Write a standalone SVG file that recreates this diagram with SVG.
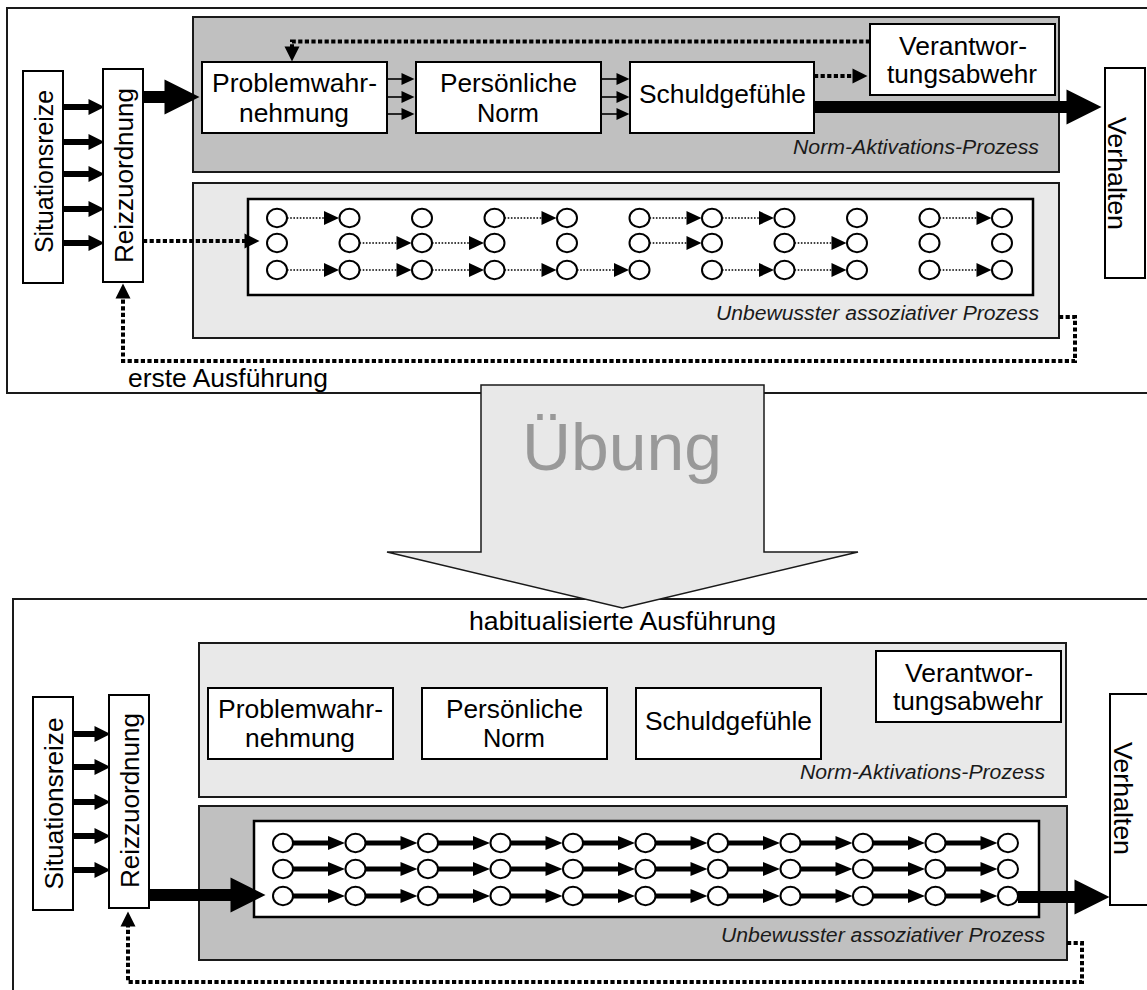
<svg xmlns="http://www.w3.org/2000/svg" width="1147" height="990" viewBox="0 0 1147 990">
  <style>
    text { font-family: "Liberation Sans", Arial, sans-serif; fill: #000; }
    .lbl { font-size: 26px; text-anchor: middle; }
    .vlbl { font-size: 26px; text-anchor: middle; }
    .cap { font-size: 20px; font-style: italic; text-anchor: end; fill: #1a1a1a; }
    .frame { fill: #fff; stroke: #1a1a1a; stroke-width: 2; }
    .dark { fill: #c0c0c0; stroke: #1a1a1a; stroke-width: 2; }
    .light { fill: #e9e9e9; stroke: #1a1a1a; stroke-width: 2; }
    .box { fill: #fff; stroke: #000; stroke-width: 2; }
    .net { fill: #fff; stroke: #000; stroke-width: 2.5; }
    .node { fill: #fff; stroke: #000; stroke-width: 2; }
    .dotline { fill: none; stroke: #000; stroke-width: 1.6; stroke-dasharray: 1.6 1.6; marker-end: url(#hd-dot); }
    .boldline { fill: none; stroke: #000; stroke-width: 5; marker-end: url(#hd-bold); }
    .thin { fill: none; stroke: #000; stroke-width: 1.6; marker-end: url(#hd-thin); }
    .input { fill: none; stroke: #000; stroke-width: 6; marker-end: url(#hd-in); }
    .thick { fill: none; stroke: #000; stroke-width: 12; marker-end: url(#hd-big); }
    .loop { fill: none; stroke: #000; stroke-width: 4; stroke-dasharray: 4.2 2.4; marker-end: url(#hd-loop); }
  </style>
  <defs>
    <marker id="hd-dot" markerUnits="userSpaceOnUse" markerWidth="15" markerHeight="14" refX="0.5" refY="7" orient="auto" overflow="visible">
      <path d="M0,0 L15,7 L0,14 z" fill="#000"/>
    </marker>
    <marker id="hd-bold" markerUnits="userSpaceOnUse" markerWidth="17" markerHeight="14" refX="0.5" refY="7" orient="auto" overflow="visible">
      <path d="M0,0 L17,7 L0,14 z" fill="#000"/>
    </marker>
    <marker id="hd-thin" markerUnits="userSpaceOnUse" markerWidth="13" markerHeight="12" refX="0.5" refY="6" orient="auto" overflow="visible">
      <path d="M0,0 L13,6 L0,12 z" fill="#000"/>
    </marker>
    <marker id="hd-in" markerUnits="userSpaceOnUse" markerWidth="16" markerHeight="16" refX="0.5" refY="8" orient="auto" overflow="visible">
      <path d="M0,0 L16,8 L0,16 z" fill="#000"/>
    </marker>
    <marker id="hd-big" markerUnits="userSpaceOnUse" markerWidth="35" markerHeight="35" refX="0.5" refY="17.5" orient="auto" overflow="visible">
      <path d="M0,0 L35,17.5 L0,35 z" fill="#000"/>
    </marker>
    <marker id="hd-loop" markerUnits="userSpaceOnUse" markerWidth="15" markerHeight="15" refX="0.5" refY="7.5" orient="auto" overflow="visible">
      <path d="M0,0 L15,7.5 L0,15 z" fill="#000"/>
    </marker>
    <ellipse id="unit" class="node" cx="0" cy="0" rx="10" ry="9.3"/>
  </defs>

  <!-- outer frames of the two stages -->
  <g id="frames">
    <rect id="frame-first" class="frame" x="7" y="8" width="1145" height="385"/>
    <rect id="frame-habit" class="frame" x="13" y="599" width="1140" height="400"/>
  </g>

  <!-- process panels, first execution -->
  <g id="panel-nap-1">
    <rect class="dark" x="193" y="17" width="866" height="155"/>
    <text class="cap" x="1039" y="154" textLength="246" lengthAdjust="spacingAndGlyphs">Norm-Aktivations-Prozess</text>
  </g>
  <g id="panel-assoc-1">
    <rect class="light" x="193" y="183" width="866" height="155"/>
    <rect class="net" x="248" y="199" width="785" height="96"/>
    <text class="cap" x="1039" y="320" textLength="323" lengthAdjust="spacingAndGlyphs">Unbewusster assoziativer Prozess</text>
  </g>

  <!-- process panels, habitual execution -->
  <g id="panel-nap-2">
    <rect class="light" x="199" y="643" width="867" height="154"/>
    <text class="cap" x="1045" y="779" textLength="245" lengthAdjust="spacingAndGlyphs">Norm-Aktivations-Prozess</text>
  </g>
  <g id="panel-assoc-2">
    <rect class="dark" x="199" y="806" width="868" height="154"/>
    <rect class="net" x="254" y="821" width="785" height="96"/>
    <text class="cap" x="1045" y="942" textLength="324" lengthAdjust="spacingAndGlyphs">Unbewusster assoziativer Prozess</text>
  </g>

  <g id="connectors">
    <!-- first execution: stimuli to assignment -->
    <path class="input" d="M63,107 H89"/>
    <path class="input" d="M63,142 H89"/>
    <path class="input" d="M63,174 H89"/>
    <path class="input" d="M63,209 H89"/>
    <path class="input" d="M63,243 H89"/>
    <!-- assignment to problem awareness -->
    <path class="thick" d="M143,97 H165"/>
    <!-- chain of the norm activation -->
    <path class="thin" d="M387,79 H402"/>
    <path class="thin" d="M387,97 H402"/>
    <path class="thin" d="M387,114 H402"/>
    <path class="thin" d="M601,79 H617"/>
    <path class="thin" d="M601,97 H617"/>
    <path class="thin" d="M601,114 H617"/>
    <path class="loop" d="M814,76 H853"/>
    <path class="loop" d="M870,41.5 H292 V47"/>
    <path class="thick" d="M814,107 H1067"/>
    <!-- assignment into the associative network -->
    <path class="loop" d="M143,241 H245"/>
    <!-- feedback -->
    <path class="loop" d="M1059,317 H1075 V361 H123 V298"/>

    <!-- associative links, first execution -->
    <path class="dotline" d="M287,218 H324.5"/>
    <path class="dotline" d="M504.5,218 H542"/>
    <path class="dotline" d="M649.5,218 H687"/>
    <path class="dotline" d="M722,218 H759.5"/>
    <path class="dotline" d="M939.5,218 H977"/>
    <path class="dotline" d="M359.5,243 H397"/>
    <path class="dotline" d="M432,243 H469.5"/>
    <path class="dotline" d="M649.5,243 H687"/>
    <path class="dotline" d="M794.5,243 H832"/>
    <path class="dotline" d="M287,270 H324.5"/>
    <path class="dotline" d="M359.5,270 H397"/>
    <path class="dotline" d="M432,270 H469.5"/>
    <path class="dotline" d="M504.5,270 H542"/>
    <path class="dotline" d="M577,270 H614.5"/>
    <path class="dotline" d="M722,270 H759.5"/>
    <path class="dotline" d="M794.5,270 H832"/>
    <path class="dotline" d="M939.5,270 H977"/>

    <!-- habitual execution: stimuli to assignment -->
    <path class="input" d="M70,734 H95"/>
    <path class="input" d="M70,767 H95"/>
    <path class="input" d="M70,802 H95"/>
    <path class="input" d="M70,836 H95"/>
    <path class="input" d="M70,870 H95"/>
    <path class="thick" d="M149,895 H231"/>
    <path class="thick" d="M1018,897 H1075"/>
    <path class="loop" d="M1067,943 H1082 V982 H128 V926"/>

    <!-- associative links, habitual execution -->
    <path class="boldline" d="M293,843 H328.5"/>
    <path class="boldline" d="M365.5,843 H401"/>
    <path class="boldline" d="M438,843 H473.5"/>
    <path class="boldline" d="M510.5,843 H546"/>
    <path class="boldline" d="M583,843 H618.5"/>
    <path class="boldline" d="M655.5,843 H691"/>
    <path class="boldline" d="M728,843 H763.5"/>
    <path class="boldline" d="M800.5,843 H836"/>
    <path class="boldline" d="M873,843 H908.5"/>
    <path class="boldline" d="M945.5,843 H981"/>
    <path class="boldline" d="M293,869 H328.5"/>
    <path class="boldline" d="M365.5,869 H401"/>
    <path class="boldline" d="M438,869 H473.5"/>
    <path class="boldline" d="M510.5,869 H546"/>
    <path class="boldline" d="M583,869 H618.5"/>
    <path class="boldline" d="M655.5,869 H691"/>
    <path class="boldline" d="M728,869 H763.5"/>
    <path class="boldline" d="M800.5,869 H836"/>
    <path class="boldline" d="M873,869 H908.5"/>
    <path class="boldline" d="M945.5,869 H981"/>
    <path class="boldline" d="M293,896 H328.5"/>
    <path class="boldline" d="M365.5,896 H401"/>
    <path class="boldline" d="M438,896 H473.5"/>
    <path class="boldline" d="M510.5,896 H546"/>
    <path class="boldline" d="M583,896 H618.5"/>
    <path class="boldline" d="M655.5,896 H691"/>
    <path class="boldline" d="M728,896 H763.5"/>
    <path class="boldline" d="M800.5,896 H836"/>
    <path class="boldline" d="M873,896 H908.5"/>
    <path class="boldline" d="M945.5,896 H981"/>
  </g>

  <!-- associative network units, first execution (3 rows x 11 columns) -->
  <g id="units-1">
    <g id="units-1-row1">
      <use href="#unit" x="277" y="218"/><use href="#unit" x="349.5" y="218"/><use href="#unit" x="422" y="218"/>
      <use href="#unit" x="494.5" y="218"/><use href="#unit" x="567" y="218"/><use href="#unit" x="639.5" y="218"/>
      <use href="#unit" x="712" y="218"/><use href="#unit" x="784.5" y="218"/><use href="#unit" x="857" y="218"/>
      <use href="#unit" x="929.5" y="218"/><use href="#unit" x="1002" y="218"/>
    </g>
    <g id="units-1-row2">
      <use href="#unit" x="277" y="243"/><use href="#unit" x="349.5" y="243"/><use href="#unit" x="422" y="243"/>
      <use href="#unit" x="494.5" y="243"/><use href="#unit" x="567" y="243"/><use href="#unit" x="639.5" y="243"/>
      <use href="#unit" x="712" y="243"/><use href="#unit" x="784.5" y="243"/><use href="#unit" x="857" y="243"/>
      <use href="#unit" x="929.5" y="243"/><use href="#unit" x="1002" y="243"/>
    </g>
    <g id="units-1-row3">
      <use href="#unit" x="277" y="270"/><use href="#unit" x="349.5" y="270"/><use href="#unit" x="422" y="270"/>
      <use href="#unit" x="494.5" y="270"/><use href="#unit" x="567" y="270"/><use href="#unit" x="639.5" y="270"/>
      <use href="#unit" x="712" y="270"/><use href="#unit" x="784.5" y="270"/><use href="#unit" x="857" y="270"/>
      <use href="#unit" x="929.5" y="270"/><use href="#unit" x="1002" y="270"/>
    </g>
  </g>

  <!-- associative network units, habitual execution (3 rows x 11 columns) -->
  <g id="units-2">
    <g id="units-2-row1">
      <use href="#unit" x="283" y="843"/><use href="#unit" x="355.5" y="843"/><use href="#unit" x="428" y="843"/>
      <use href="#unit" x="500.5" y="843"/><use href="#unit" x="573" y="843"/><use href="#unit" x="645.5" y="843"/>
      <use href="#unit" x="718" y="843"/><use href="#unit" x="790.5" y="843"/><use href="#unit" x="863" y="843"/>
      <use href="#unit" x="935.5" y="843"/><use href="#unit" x="1008" y="843"/>
    </g>
    <g id="units-2-row2">
      <use href="#unit" x="283" y="869"/><use href="#unit" x="355.5" y="869"/><use href="#unit" x="428" y="869"/>
      <use href="#unit" x="500.5" y="869"/><use href="#unit" x="573" y="869"/><use href="#unit" x="645.5" y="869"/>
      <use href="#unit" x="718" y="869"/><use href="#unit" x="790.5" y="869"/><use href="#unit" x="863" y="869"/>
      <use href="#unit" x="935.5" y="869"/><use href="#unit" x="1008" y="869"/>
    </g>
    <g id="units-2-row3">
      <use href="#unit" x="283" y="896"/><use href="#unit" x="355.5" y="896"/><use href="#unit" x="428" y="896"/>
      <use href="#unit" x="500.5" y="896"/><use href="#unit" x="573" y="896"/><use href="#unit" x="645.5" y="896"/>
      <use href="#unit" x="718" y="896"/><use href="#unit" x="790.5" y="896"/><use href="#unit" x="863" y="896"/>
      <use href="#unit" x="935.5" y="896"/><use href="#unit" x="1008" y="896"/>
    </g>
  </g>

  <!-- nodes, first execution -->
  <g id="situationsreize-1">
    <rect class="box" x="23" y="71" width="40" height="212"/>
    <text class="vlbl" transform="translate(53,171.5) rotate(-90)" textLength="163" lengthAdjust="spacingAndGlyphs">Situationsreize</text>
  </g>
  <g id="reizzuordnung-1">
    <rect class="box" x="103" y="69" width="40" height="213"/>
    <text class="vlbl" transform="translate(133,175.5) rotate(-90)" textLength="175" lengthAdjust="spacingAndGlyphs">Reizzuordnung</text>
  </g>
  <g id="problemwahrnehmung-1">
    <rect class="box" x="202" y="62" width="185" height="71"/>
    <text class="lbl" x="294.5" y="92" textLength="165" lengthAdjust="spacingAndGlyphs">Problemwahr-</text>
    <text class="lbl" x="294" y="122" textLength="110" lengthAdjust="spacingAndGlyphs">nehmung</text>
  </g>
  <g id="norm-1">
    <rect class="box" x="416" y="62" width="185" height="71"/>
    <text class="lbl" x="508.5" y="92" textLength="137" lengthAdjust="spacingAndGlyphs">Persönliche</text>
    <text class="lbl" x="508" y="122" textLength="62" lengthAdjust="spacingAndGlyphs">Norm</text>
  </g>
  <g id="schuldgefuehle-1">
    <rect class="box" x="630" y="62" width="184" height="71"/>
    <text class="lbl" x="722.5" y="103" textLength="167" lengthAdjust="spacingAndGlyphs">Schuldgefühle</text>
  </g>
  <g id="verantwortungsabwehr-1">
    <rect class="box" x="870" y="24" width="185" height="71"/>
    <text class="lbl" x="963" y="55" textLength="128" lengthAdjust="spacingAndGlyphs">Verantwor-</text>
    <text class="lbl" x="962" y="83" textLength="150" lengthAdjust="spacingAndGlyphs">tungsabwehr</text>
  </g>
  <g id="verhalten-1">
    <rect class="box" x="1105" y="68" width="40" height="210"/>
    <text class="vlbl" transform="translate(1108,173.5) rotate(90)" textLength="113" lengthAdjust="spacingAndGlyphs">Verhalten</text>
  </g>
  <text id="label-first" class="lbl" x="228" y="387" textLength="200" lengthAdjust="spacingAndGlyphs">erste Ausführung</text>

  <!-- nodes, habitual execution -->
  <g id="situationsreize-2">
    <rect class="box" x="33" y="697" width="40" height="213"/>
    <text class="vlbl" transform="translate(63,803.5) rotate(-90)" textLength="172" lengthAdjust="spacingAndGlyphs">Situationsreize</text>
  </g>
  <g id="reizzuordnung-2">
    <rect class="box" x="109" y="695" width="40" height="213"/>
    <text class="vlbl" transform="translate(139,800.5) rotate(-90)" textLength="175" lengthAdjust="spacingAndGlyphs">Reizzuordnung</text>
  </g>
  <g id="problemwahrnehmung-2">
    <rect class="box" x="208" y="688" width="185" height="71"/>
    <text class="lbl" x="300.5" y="718" textLength="165" lengthAdjust="spacingAndGlyphs">Problemwahr-</text>
    <text class="lbl" x="300" y="747" textLength="110" lengthAdjust="spacingAndGlyphs">nehmung</text>
  </g>
  <g id="norm-2">
    <rect class="box" x="422" y="688" width="185" height="71"/>
    <text class="lbl" x="514.5" y="718" textLength="137" lengthAdjust="spacingAndGlyphs">Persönliche</text>
    <text class="lbl" x="514" y="747" textLength="62" lengthAdjust="spacingAndGlyphs">Norm</text>
  </g>
  <g id="schuldgefuehle-2">
    <rect class="box" x="636" y="688" width="185" height="71"/>
    <text class="lbl" x="728.5" y="730" textLength="167" lengthAdjust="spacingAndGlyphs">Schuldgefühle</text>
  </g>
  <g id="verantwortungsabwehr-2">
    <rect class="box" x="876" y="651" width="185" height="71"/>
    <text class="lbl" x="969" y="682" textLength="128" lengthAdjust="spacingAndGlyphs">Verantwor-</text>
    <text class="lbl" x="968" y="710" textLength="150" lengthAdjust="spacingAndGlyphs">tungsabwehr</text>
  </g>
  <g id="verhalten-2">
    <rect class="box" x="1110" y="694" width="45" height="211"/>
    <text class="vlbl" transform="translate(1114,798.5) rotate(90)" textLength="113" lengthAdjust="spacingAndGlyphs">Verhalten</text>
  </g>

  <!-- transition arrow between the two stages -->
  <g id="uebung">
    <path d="M481,385 H764 V552 H858 L622.5,608 L387,552 H481 Z" fill="#e8e8e8" stroke="#1a1a1a" stroke-width="1.5" stroke-linejoin="miter"/>
    <text x="622" y="470" font-size="66" text-anchor="middle" style="fill:#999" textLength="200" lengthAdjust="spacingAndGlyphs">Übung</text>
  </g>
  <text id="label-habit" class="lbl" x="622.5" y="630" textLength="307" lengthAdjust="spacingAndGlyphs">habitualisierte Ausführung</text>
</svg>
